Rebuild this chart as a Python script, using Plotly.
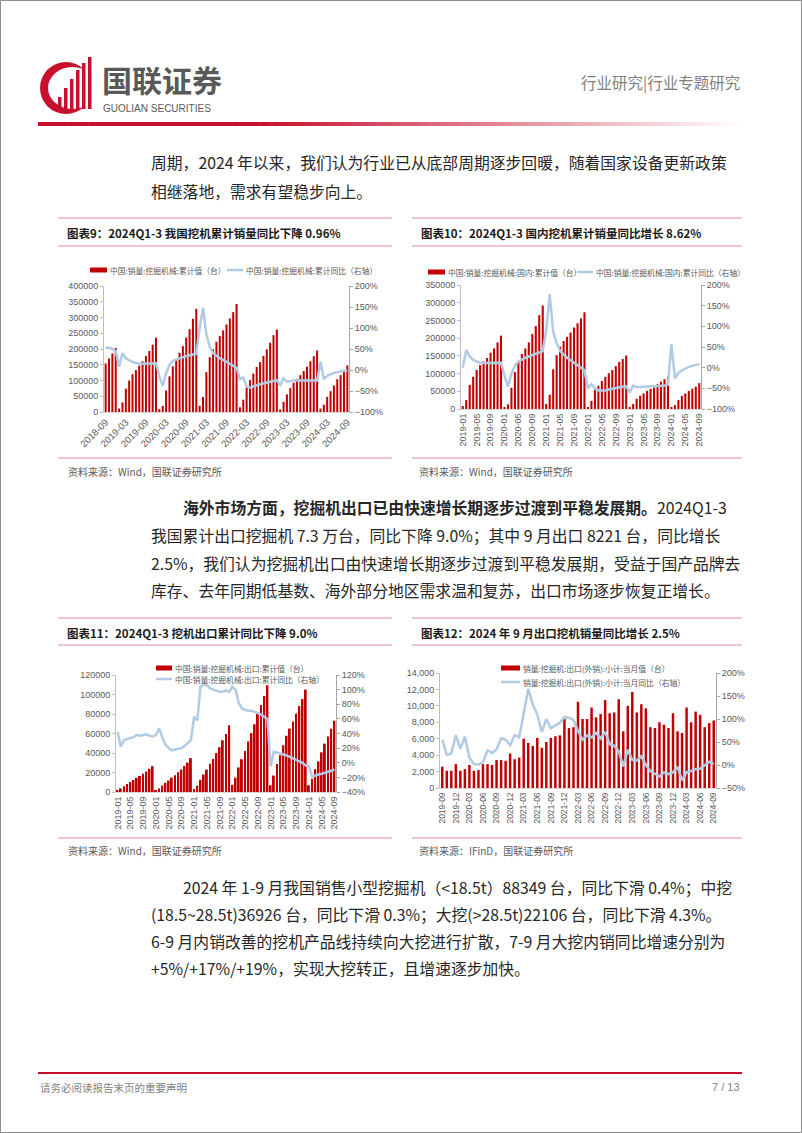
import plotly.graph_objects as go
import pandas as pd

W, H = 802, 1133
def X(p): return p / W
def Y(p): return 1 - p / H

def months(start, n):
    return [d.strftime("%Y-%m") for d in pd.date_range(start, periods=n, freq="MS")]

# ---------------- data ----------------
# Chart 9: China excavator sales, cumulative (units) & cumulative YoY (%)
c9_months = months("2018-09", 73)
c9_cum = [154000, 170000, 186000, 203400,
          11000, 30500, 74000, 100000, 120000, 133000, 147000, 161000, 178000, 194000, 214000, 235700,
          9000, 19300, 68400, 113000, 145000, 167000, 188000, 209000, 236000, 263000, 296000, 327600,
          19600, 47700, 126400, 173800, 199000, 223000, 241000, 259000, 278000, 297000, 317000, 342800,
          15000, 39000, 77000, 101000, 122000, 143000, 158000, 178000, 199000, 220000, 244000, 261300,
          8300, 32000, 56000, 76000, 93000, 105000, 117000, 130000, 144000, 161000, 177000, 195000,
          10900, 23000, 48000, 66000, 84000, 104000, 117000, 130000, 147800]
c9_yoy = [53, 53, 50, 45,
          8, 40, 28, 23, 19, 17, 15, 15, 15, 15, 15, 16,
          -15, -38, -8, 12, 22, 25, 28, 30, 33, 35, 37, 39,
          100, 148, 85, 55, 40, 33, 28, 24, 19, 14, 9, 5,
          -22, -18, -39, -42, -39, -36, -34, -32, -30, -28, -26, -24,
          -36, -20, -28, -26, -25, -25, -25, -25, -25, -25, -26, -25,
          20, -22, -14, -10, -7, -5, -3, -2, -1]

# Chart 10: domestic cumulative sales & YoY
c10_months = months("2019-01", 69)
c10_cum = [8500, 25000, 68000, 91000, 110000, 124000, 134000, 144000, 159000, 171000, 188000, 207000,
           4000, 13000, 60000, 104000, 134000, 155000, 171000, 188000, 212000, 234000, 265000, 292000,
           14000, 40000, 112000, 152000, 176000, 192000, 204000, 216000, 230000, 242000, 256000, 273000,
           5000, 23000, 54000, 66000, 79000, 91000, 101000, 110000, 121000, 133000, 141000, 151000,
           3000, 14000, 29000, 37000, 44000, 51000, 57000, 61000, 70000, 77000, 84000, 91000,
           4000, 11000, 25000, 37000, 44000, 51000, 57000, 63000, 73000]
c10_yoy = [0, 43, 27, 19, 15, 12, 11, 11, 11, 11, 12, 12,
           -20, -46, -15, 5, 15, 20, 24, 27, 30, 33, 36, 40,
           90, 178, 87, 59, 40, 31, 24, 18, 12, 6, 1, -6,
           -50, -40, -50, -55, -55, -55, -53, -51, -49, -47, -46, -45,
           -60, -44, -47, -47, -46, -46, -45, -45, -45, -44, -43, -41,
           57, -26, -12, -6, -2, 2, 4, 6, 8.62]

# Chart 11: export cumulative & YoY
c11_months = months("2019-01", 69)
c11_cum = [1800, 3700, 6000, 8300, 10300, 12400, 14500, 16500, 18800, 21000, 23800, 26500,
           1500, 3600, 6500, 9400, 11900, 14700, 17300, 20300, 23100, 26600, 30200, 34700,
           3000, 6500, 12500, 18000, 23000, 29000, 34000, 40000, 46000, 53000, 59500, 68400,
           7300, 14700, 25200, 33600, 42000, 51800, 60400, 69400, 80100, 89200, 98400, 109500,
           6900, 16900, 28600, 37800, 48000, 57700, 65100, 72400, 80400, 88100, 95400, 105000,
           6900, 13600, 23400, 31400, 40700, 49600, 57000, 64900, 73100]
c11_yoy = [42, 22, 31, 32, 34, 35, 38, 37, 38, 39, 37, 36,
           38, 47, 35, 25, 20, 17, 18, 19, 20, 23, 27, 31,
           63, 58, 104, 107, 106, 102, 100, 98, 97, 97, 99, 97,
           104, 100, 82, 74, 72, 71, 71, 70, 68, 66, 63, 60,
           -5, 15, 14, 13, 12, 10, 8, 6, 4, 2, 0, -4,
           -5, -19, -17, -16, -15, -14, -12, -11, -9]

# Chart 12: monthly export & YoY
c12_months = months("2019-09", 61)
c12_val = [2600, 2100, 2100, 2900,
           2100, 2300, 2800, 2100, 2200, 2900, 2900, 2800, 3400, 3400, 3300, 4200,
           3500, 3700, 6000, 5500, 5100, 6100, 4900, 5600, 6100, 6300, 6400, 8400,
           7300, 7400, 10500, 8400, 8400, 9800, 8600, 9000, 10700, 9100, 9200, 10800,
           6900, 10000, 11700, 9200, 10200, 9700, 7400, 7300, 8000, 7700, 7300, 9100,
           6900, 6700, 9800, 8000, 9300, 8900, 7400, 7900, 8221]
c12_yoy = [55, 22, 25, 65,
           35, 62, 16, 2, 1, 6, 32, 26, 34, 58, 55, 43,
           65, 60, 112, 165, 132, 110, 72, 100, 80, 86, 92, 104,
           103, 98, 74, 55, 64, 60, 70, 58, 72, 45, 42, 30,
           -3, 33, 11, 10, 19, 0, -13, -19, -25, -16, -20, -16,
           -4, -33, -16, -13, -9, -8, 0, 7, 2.5]

# ---------------- style ----------------
RED = "#C00000"
BLUE = "#B2CBE4"
GRAY = "#595959"
PINK = "#E9B3C2"
CJK = "Noto Sans CJK SC"
AXF = dict(family="Liberation Sans, Arial", size=9, color=GRAY)

fig = go.Figure()
layout = {}

def add_chart(n, cats, bars, yoy, xpx, ypx, lrange, ldtick, lfmt, rrange, rdtick,
              step, angle, barw, xfont=AXF):
    xa = "x" if n == 1 else f"x{n}"
    yl, yr = 2 * n - 1, 2 * n
    yla = "y" if yl == 1 else f"y{yl}"
    yra = f"y{yr}"
    fig.add_trace(go.Bar(x=cats, y=bars, xaxis=xa, yaxis=yla, marker_color=RED,
                         marker_line_width=0, width=barw, showlegend=False))
    fig.add_trace(go.Scatter(x=cats, y=yoy, xaxis=xa, yaxis=yra, mode="lines",
                             line=dict(color=BLUE, width=2.5), showlegend=False))
    xkey = "xaxis" if n == 1 else f"xaxis{n}"
    ylkey = "yaxis" if yl == 1 else f"yaxis{yl}"
    yrkey = f"yaxis{yr}"
    layout[xkey] = dict(domain=[X(xpx[0]), X(xpx[1])], anchor=yla, type="category",
                        range=[-0.5, len(cats) - 0.5], tickmode="array",
                        tickvals=cats[::step], ticktext=cats[::step], tickangle=angle,
                        tickfont=xfont, showline=True, linecolor="#D9D9D9", linewidth=1,
                        ticks="", showgrid=False, zeroline=False, automargin=False)
    layout[ylkey] = dict(domain=[Y(ypx[1]), Y(ypx[0])], anchor=xa, range=lrange,
                         dtick=ldtick, tick0=0, tickformat=lfmt, showgrid=False,
                         zeroline=False, showline=True, linecolor="#BFBFBF",
                         ticks="outside", ticklen=3, tickcolor="#BFBFBF", tickfont=AXF,
                         automargin=False)
    layout[yrkey] = dict(overlaying=yla, side="right", anchor=xa, range=rrange,
                         dtick=rdtick, tick0=0, ticksuffix="%", showgrid=False,
                         zeroline=False, showline=True, linecolor="#A6A6A6",
                         ticks="outside", ticklen=3, tickcolor="#A6A6A6", tickfont=AXF,
                         automargin=False)

add_chart(1, c9_months, c9_cum, c9_yoy, (104, 349), (286, 412),
          [0, 400000], 50000, "d", [-100, 200], 50, 6, -45, 0.6,
          xfont=dict(family="Liberation Sans, Arial", size=9.5, color=GRAY))
add_chart(2, c10_months, c10_cum, c10_yoy, (461, 701), (285, 409),
          [0, 350000], 50000, "d", [-100, 200], 50, 4, -90, 0.6)
add_chart(3, c11_months, c11_cum, c11_yoy, (116, 336), (675, 792),
          [0, 120000], 20000, "d", [-40, 120], 20, 4, -90, 0.6)
add_chart(4, c12_months, c12_val, c12_yoy, (440, 716), (673, 788),
          [0, 14000], 2000, ",d", [-50, 200], 50, 3, -90, 0.55,
          xfont=dict(family="Liberation Sans, Arial", size=8.5, color=GRAY))

shapes = []
ann = []

def text(x, y, t, size=15.8, color="#262626", anchor="left", family=CJK):
    ann.append(dict(x=X(x), y=Y(y), xref="paper", yref="paper", text=t, showarrow=False,
                    xanchor=anchor, yanchor="middle", font=dict(family=family, size=size, color=color)))

def hline(x0, x1, y, color=PINK, w=1.5):
    shapes.append(dict(type="line", xref="paper", yref="paper", x0=X(x0), x1=X(x1),
                       y0=Y(y), y1=Y(y), line=dict(color=color, width=w)))

def rect(x0, x1, y0, y1, color):
    shapes.append(dict(type="rect", xref="paper", yref="paper", x0=X(x0), x1=X(x1),
                       y0=Y(y1), y1=Y(y0), fillcolor=color, line=dict(width=0)))

# page border
shapes.append(dict(type="rect", xref="paper", yref="paper", x0=X(0.5), x1=X(801.5),
                   y0=Y(1132.5), y1=Y(0.5), line=dict(color="#8C8C8C", width=1)))

# ---------------- header ----------------
shapes.append(dict(type="circle", xref="paper", yref="paper", x0=X(40), x1=X(92),
                   y0=Y(114), y1=Y(62), fillcolor="#C8102E", line=dict(width=0)))
shapes.append(dict(type="circle", xref="paper", yref="paper", x0=X(48), x1=X(97),
                   y0=Y(109), y1=Y(67), fillcolor="white", line=dict(width=0)))
for bx, top in [(58, 97), (64, 88), (70, 79), (76, 70), (82, 63), (88, 57)]:
    rect(bx, bx + 3.5, top, 109, "#C8102E")
text(100, 79, "<b>国联证券</b>", size=30, color="#595959")
text(101, 109, "GUOLIAN SECURITIES", size=10, color="#595959", family="Liberation Sans, Arial")
text(742, 82, "行业研究|行业专题研究", size=15.5, color="#7F7F7F", anchor="right")

# gradient line
N = 70
x_start, x_end = 38, 742
for i in range(N):
    a = x_start + (x_end - x_start) * i / N
    b = x_start + (x_end - x_start) * (i + 1) / N + 0.5
    t = max(0.0, ((a + b) / 2 - 260) / (x_end - 260))
    r = int(200 + (255 - 200) * t)
    g = int(16 + (255 - 16) * t)
    bl = int(46 + (255 - 46) * t)
    rect(a, b, 122, 126, f"rgb({r},{g},{bl})")

# ---------------- body text ----------------
BX = 149
IX = 181
text(BX, 163, "周期，2024 年以来，我们认为行业已从底部周期逐步回暖，随着国家设备更新政策")
text(BX, 191, "相继落地，需求有望稳步向上。")

text(IX, 507, "<b>海外市场方面，挖掘机出口已由快速增长期逐步过渡到平稳发展期。</b>2024Q1-3")
text(BX, 535, "我国累计出口挖掘机 7.3 万台，同比下降 9.0%；其中 9 月出口 8221 台，同比增长")
text(BX, 563, "2.5%，我们认为挖掘机出口由快速增长期逐步过渡到平稳发展期，受益于国产品牌去")
text(BX, 590, "库存、去年同期低基数、海外部分地区需求温和复苏，出口市场逐步恢复正增长。")

text(IX, 887, "2024 年 1-9 月我国销售小型挖掘机（&lt;18.5t）88349 台，同比下滑 0.4%；中挖")
text(BX, 914, "(18.5~28.5t)36926 台，同比下滑 0.3%；大挖(&gt;28.5t)22106 台，同比下滑 4.3%。")
text(BX, 941, "6-9 月内销改善的挖机产品线持续向大挖进行扩散，7-9 月大挖内销同比增速分别为")
text(BX, 968, "+5%/+17%/+19%，实现大挖转正，且增速逐步加快。")

# ---------------- chart frames ----------------
for (x0, x1) in [(58, 392), (412, 742)]:
    hline(x0, x1, 218); hline(x0, x1, 246); hline(x0, x1, 458)
    hline(x0, x1, 618); hline(x0, x1, 645); hline(x0, x1, 838)

TS = 11.5
text(65, 233, "<b>图表9：2024Q1-3 我国挖机累计销量同比下降 0.96%</b>", size=TS, color="#1A1A1A")
text(419, 233, "<b>图表10：2024Q1-3 国内挖机累计销量同比增长 8.62%</b>", size=TS, color="#1A1A1A")
text(65, 633, "<b>图表11：2024Q1-3 挖机出口累计同比下降 9.0%</b>", size=TS, color="#1A1A1A")
text(419, 633, "<b>图表12：2024 年 9 月出口挖机销量同比增长 2.5%</b>", size=TS, color="#1A1A1A")

text(66, 472, "资料来源：Wind，国联证券研究所", size=10, color=GRAY)
text(417, 472, "资料来源：Wind，国联证券研究所", size=10, color=GRAY)
text(66, 850, "资料来源：Wind，国联证券研究所", size=10, color=GRAY)
text(417, 850, "资料来源：IFinD，国联证券研究所", size=10, color=GRAY)

# ---------------- legends ----------------
LS = 7.8
def leg_bar(x0, x1, y, t):
    rect(x0, x1, y - 2.5, y + 2.5, RED)
    text(x1 + 1, y, t, size=LS, color=GRAY)

def leg_line(x0, x1, y, t):
    hline(x0, x1, y, color=BLUE, w=2.5)
    text(x1 + 1, y, t, size=LS, color=GRAY)

leg_bar(90, 107, 270, "中国:销量:挖掘机械:累计值（台）")
leg_line(227, 243, 270, "中国:销量:挖掘机械:累计同比（右轴）")
leg_bar(428, 445, 272, "中国:销量:挖掘机械:国内:累计值（台）")
leg_line(577, 593, 272, "中国:销量:挖掘机械:国内:累计同比（右轴）")
leg_bar(156, 172, 668, "中国:销量:挖掘机械:出口:累计值（台）")
leg_line(156, 172, 679, "中国:销量:挖掘机械:出口:累计同比（右轴）")
leg_bar(501, 520, 668, "销量:挖掘机:出口(外销):小计:当月值（台）")
leg_line(501, 520, 682, "销量:挖掘机:出口(外销):小计:当月同比（右轴）")

# ---------------- footer ----------------
hline(38, 742, 1073, color="#C8102E", w=2)
text(38, 1087, "请务必阅读报告末页的重要声明", size=10.5, color="#7F7F7F")
text(742, 1087, "7 / 13", size=11, color="#7F7F7F", anchor="right", family="Liberation Sans, Arial")

fig.update_layout(width=W, height=H, autosize=False,
                  margin=dict(l=0, r=0, t=0, b=0, pad=0, autoexpand=False),
                  paper_bgcolor="white", plot_bgcolor="white", showlegend=False,
                  shapes=shapes, annotations=ann, bargap=0.35,
                  font=dict(family=CJK), **layout)

fig.write_html("out.html", config={"displayModeBar": False})
